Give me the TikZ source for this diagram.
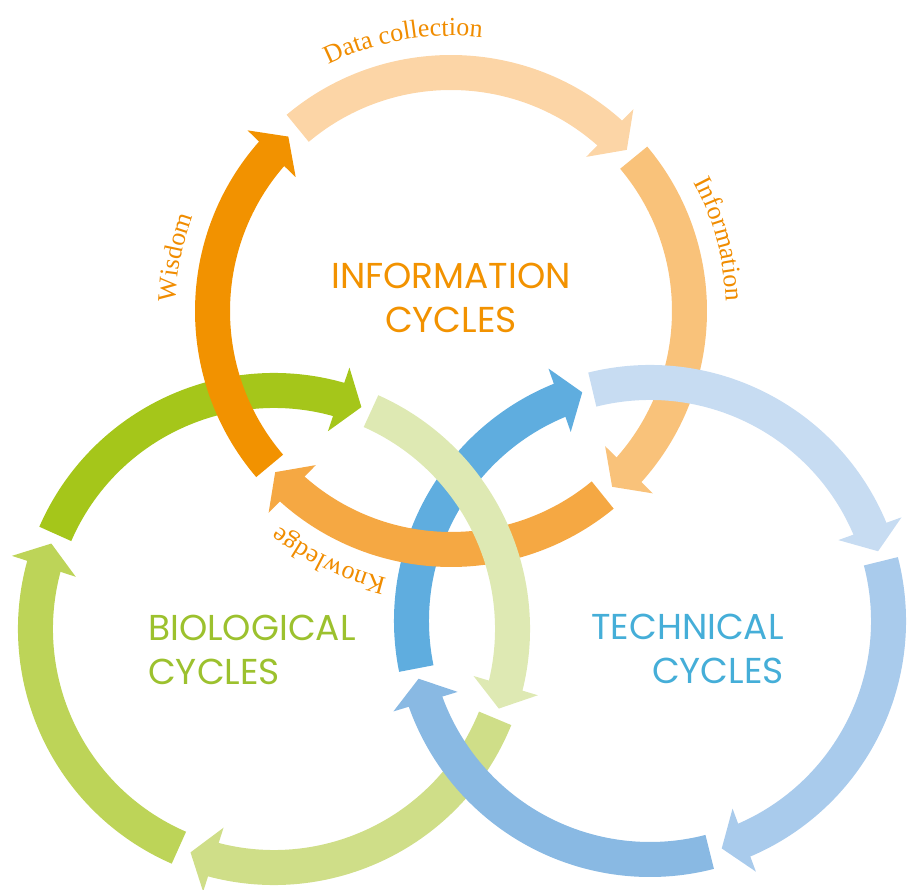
\documentclass[tikz,border=0pt]{standalone}
\usepackage{fontspec}
\setsansfont{Poppins}
\newfontfamily\labelfont{Liberation Serif}
\usetikzlibrary{arrows.meta,bending,decorations.text}

\definecolor{infoA}{HTML}{FCD5A6}
\definecolor{infoB}{HTML}{F9C27A}
\definecolor{infoC}{HTML}{F5A843}
\definecolor{infoD}{HTML}{F29200}
\definecolor{bioA}{HTML}{A5C61A}
\definecolor{bioB}{HTML}{DEE9B3}
\definecolor{bioC}{HTML}{CFDE88}
\definecolor{bioD}{HTML}{BDD458}
\definecolor{techA}{HTML}{C7DCF2}
\definecolor{techB}{HTML}{A9CBEC}
\definecolor{techC}{HTML}{89B9E3}
\definecolor{techD}{HTML}{5FADDF}
\definecolor{infotext}{HTML}{F29200}
\definecolor{biotext}{HTML}{9CC12E}
\definecolor{techtext}{HTML}{45AED8}
\definecolor{labelorange}{HTML}{F08C00}

\tikzset{
    arcband/.style={line width=35pt, -{Triangle[width=66pt,length=24pt]}},
    cycletitle/.style={font=\sffamily\fontsize{36}{44}\selectfont, inner sep=0pt}
}
\tikzset{labeltext/.style={decorate, decoration={text along path, text align=center, text color=labelorange}}}

\newcommand{\midr}{238.5}
\newcommand{\labr}{275}
% centre, start angle, end angle, colour
\newcommand{\cyclearc}[4]{\draw[arcband, draw=#4, shift={(#1)}] (#2:\midr) arc[start angle=#2, end angle=#3, radius=\midr];}
% centre, start angle, end angle, text
\newcommand{\arclabel}[4]{\path[labeltext, decoration={text={|\labelfont\fontsize{26}{26}\selectfont|#4}}, shift={(#1)}] (#2:\labr) arc[start angle=#2, end angle=#3, radius=\labr];}

\begin{document}
\begin{tikzpicture}[x=1pt, y=1pt]
    \useasboundingbox (0,0) rectangle (914,-890);
    \coordinate (info) at (451,-311);
    \coordinate (bio) at (274,-629);
    \coordinate (tech) at (650,-621);

    \cyclearc{info}{130}{42.5}{infoA}
    \cyclearc{bio}{246.5}{159}{bioD}
    \cyclearc{tech}{14.5}{-72.5}{techB}

    \cyclearc{bio}{156.5}{68.5}{bioA}
    \cyclearc{info}{220.5}{133}{infoD}

    \cyclearc{tech}{191.5}{106.5}{techD}
    \cyclearc{info}{-50.5}{-137.5}{infoC}
    \cyclearc{bio}{66}{-19.5}{bioB}

    \cyclearc{info}{40}{-47.5}{infoB}
    \cyclearc{tech}{104}{17}{techA}

    \cyclearc{bio}{-22}{-110.5}{bioC}
    \cyclearc{tech}{-75.5}{-166}{techC}

    \arclabel{info}{130}{70}{Data collection}
    \arclabel{info}{45}{-15}{Information}
    \arclabel{info}{-86}{-146}{Knowledge}
    \arclabel{info}{199}{139}{Wisdom}

    \node[cycletitle, text=infotext, align=center] (infotitle) at (451,-298) {INFORMATION\\CYCLES};
    \node[cycletitle, text=biotext, align=left, anchor=west] (biotitle) at (148,-650) {BIOLOGICAL\\CYCLES};
    \node[cycletitle, text=techtext, align=right, anchor=east] (techtitle) at (784,-649) {TECHNICAL\\CYCLES};
\end{tikzpicture}
\end{document}
